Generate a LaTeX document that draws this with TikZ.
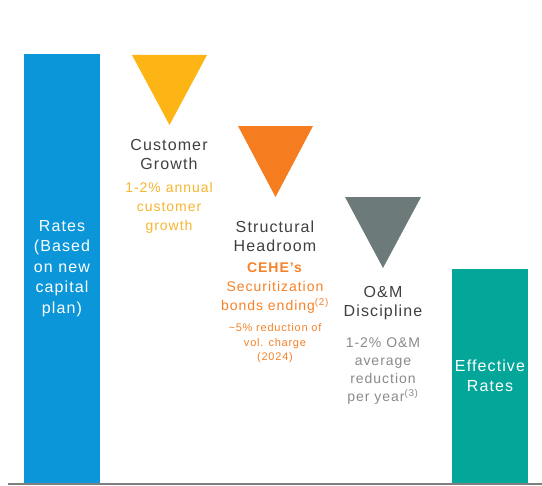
\documentclass[tikz,border=0pt]{standalone}
\usepackage{fontspec}
\setmainfont{Liberation Sans}[LetterSpace=7]
\definecolor{barblue}{HTML}{0A96D8}
\definecolor{barteal}{HTML}{03A699}
\definecolor{triyellow}{HTML}{FDB515}
\definecolor{triorange}{HTML}{F57D20}
\definecolor{trigray}{HTML}{6C7A7A}
\definecolor{headgray}{HTML}{404040}
\definecolor{txtyellow}{HTML}{F6B52E}
\definecolor{txtorange}{HTML}{F58228}
\definecolor{txtgray}{HTML}{8A8A8A}
\definecolor{axisgray}{HTML}{7F7F7F}
\tikzset{
  bar/.style={rectangle, inner sep=0pt, text=white, align=center,
    font={\fontsize{12}{15.4}\selectfont}},
  tri/.style={draw=none},
  head/.style={inner sep=0pt, align=center, text=headgray,
    font={\fontsize{12}{14.25}\selectfont}},
  sub/.style={inner sep=0pt, align=center,
    font={\fontsize{10.5}{14.25}\selectfont}},
  small/.style={inner sep=0pt, align=center,
    font={\fontsize{8.25}{10.9}\selectfont}},
}
\begin{document}
\begin{tikzpicture}[x=0.75pt,y=-0.75pt]
\useasboundingbox (0,0) rectangle (542,485);
% bars
\node[bar, fill=barblue, minimum width=57pt, minimum height=321.75pt] (rates) at (62,268.5)
  {Rates\\(Based\\on new\\capital\\plan)};
\node[bar, fill=barteal, minimum width=57pt, minimum height=160.5pt] (eff) at (490,376)
  {Effective\\Rates};
% baseline
\coordinate (axl) at (8,483.5);
\coordinate (axr) at (542,483.5);
\draw[axisgray, line width=1.5pt] (axl) -- (axr);
% triangles
\fill[triyellow] (132,55) -- (207,55) -- (169.5,125) -- cycle;
\fill[triorange] (238,126) -- (313,126) -- (275.5,197) -- cycle;
\fill[trigray] (345,197) -- (421,197) -- (383,268) -- cycle;
% texts
\node[head] (cust) at (169,154.5) {Customer\\Growth};
\node[sub, text=txtyellow] (custsub) at (169,207.5) {1-2\% annual\\customer\\growth};
\node[head] (struct) at (275,236) {Structural\\Headroom};
\node[sub, text=txtorange] (cehe) at (275,288.5) {\textbf{CEHE’s}\\Securitization\\bonds ending\textsuperscript{(2)}};
\node[small, text=txtorange] (cehesub) at (275,343.5) {\textasciitilde5\% reduction of\\vol. charge\\(2024)};
\node[head] (om) at (383,303) {O\&M\\Discipline};
\node[sub, text=txtgray, font={\fontsize{10.5}{13.5}\selectfont}] (omsub) at (383,371.5) {1-2\% O\&M\\average\\reduction\\per year\textsuperscript{(3)}};
\end{tikzpicture}
\end{document}
